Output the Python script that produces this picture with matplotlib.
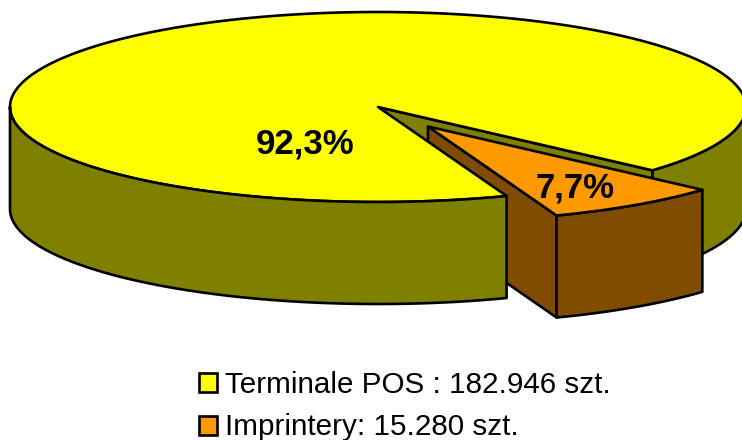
import numpy as np
import matplotlib
matplotlib.use("Agg")
import matplotlib.pyplot as plt
from matplotlib.patches import Polygon, Patch

plt.rcParams['font.family'] = ['Liberation Sans', 'DejaVu Sans']

categories = ["Terminale POS", "Imprintery"]
values = [182946, 15280]
legend_labels = ["Terminale POS : 182.946 szt.", "Imprintery: 15.280 szt."]
top_colors = ["#FFFF00", "#FF9900"]
side_colors = ["#808000", "#804D00"]

CX, CY, RX, RY, DEPTH = 378, 107, 368, 95, 102
EXPLODE = (50, 19.5)
START = -41.8
LW = 1.9

fig = plt.figure(figsize=(7.42, 4.40), dpi=100)
ax = fig.add_axes([0, 0, 1, 1])
ax.set_xlim(0, 742)
ax.set_ylim(440, 0)
ax.axis("off")

sweep = values[1] / sum(values) * 360.0
a_right = START
a_front = START - sweep


def pt(a, ox=0, oy=0, d=0):
    r = np.radians(a)
    return np.array([CX + ox + RX * np.cos(r), CY + oy - RY * np.sin(r) + d])


def arc(a0, a1, ox=0, oy=0, d=0):
    n = max(int(abs(a1 - a0)) * 2, 2)
    return np.array([pt(a, ox, oy, d) for a in np.linspace(a0, a1, n)])


def side(a0, a1, color, ox=0, oy=0):
    xy = np.vstack([arc(a0, a1, ox, oy), arc(a1, a0, ox, oy, DEPTH)])
    ax.add_patch(Polygon(xy, closed=True, fc=color, ec="black", lw=LW, joinstyle="round"))


def quad(p, color):
    ax.add_patch(Polygon(np.array(p), closed=True, fc=color, ec="black", lw=LW, joinstyle="round"))


apex = np.array([CX, CY], float)
ox, oy = EXPLODE
apex2 = apex + EXPLODE

# far right outer wall of the main slice
side(a_right, 0, side_colors[0])
# cut wall of the main slice
quad([apex, pt(a_right), pt(a_right, d=DEPTH), apex + (0, DEPTH)], side_colors[0])
# left wall of the exploded slice
quad([apex2, pt(a_front, ox, oy), pt(a_front, ox, oy, DEPTH), apex2 + (0, DEPTH)], side_colors[1])
# top of the main slice
quad(np.vstack([[apex], arc(a_front, a_front - (360 - sweep))]), top_colors[0])
# near outer wall of the main slice
side(-180, a_front, side_colors[0])
# exploded slice: outer wall and top
side(a_front, a_right, side_colors[1], ox, oy)
quad(np.vstack([[apex2], arc(a_front, a_right, ox, oy)]), top_colors[1])

total = sum(values)
pct = [f"{v / total * 100:.1f}".replace(".", ",") + "%" for v in values]
ax.text(305, 144, pct[0], fontsize=25, fontweight="bold", ha="center", va="center")
ax.text(575, 188, pct[1], fontsize=25, fontweight="bold", ha="center", va="center")

handles = [Patch(fc=c, ec="black", lw=LW) for c in top_colors]
ax.legend(handles, legend_labels, loc="upper left", bbox_to_anchor=(199 / 742, 1 - 371 / 440),
          frameon=False, fontsize=21.3, handlelength=0.61, handleheight=0.61,
          handletextpad=0.26, labelspacing=0.49, borderpad=0, borderaxespad=0)

fig.savefig("out.png", dpi=100)
